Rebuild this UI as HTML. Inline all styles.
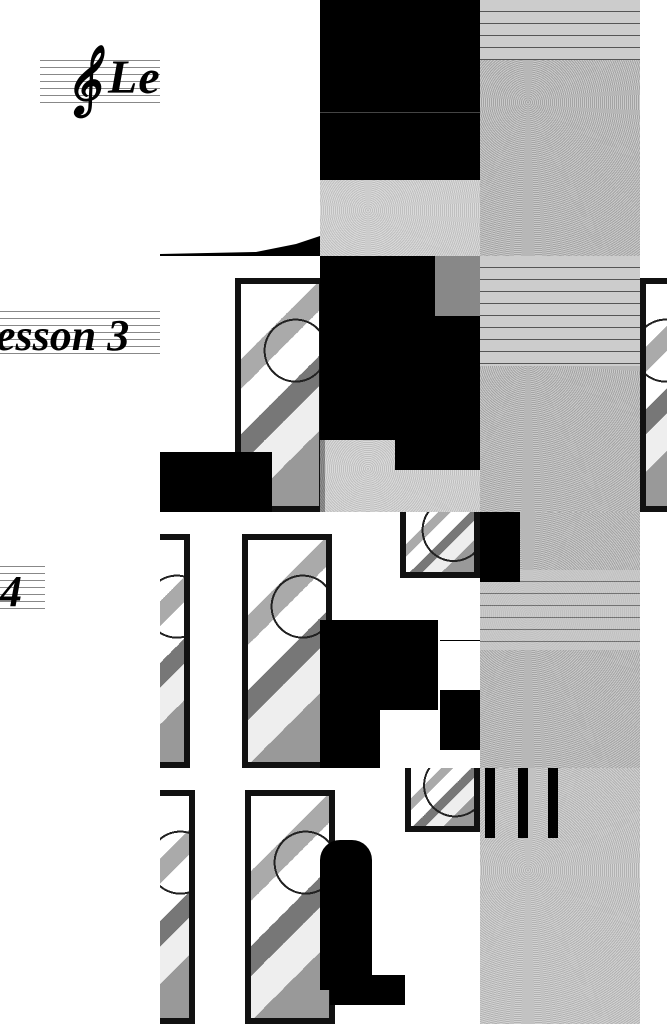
<!DOCTYPE html>
<html><head><meta charset="utf-8"><style>
html,body{margin:0;padding:0;background:#fff;}
body{width:667px;height:1024px;position:relative;overflow:hidden;font-family:"Liberation Serif",serif;}
.a{position:absolute;}
.st{background:repeating-radial-gradient(circle at 30% 40%,#a4a4a4 0 1px,#cacaca 1px 2px);}
.lines{background:repeating-linear-gradient(#cccccc 0 11px,#555 11px 12px);}
.win{border:6px solid #111;box-sizing:border-box;background:
radial-gradient(circle at 70% 30%,transparent 0 30px,#222 30px 32px,transparent 32px),
linear-gradient(135deg,#fff 0 25%,#aaa 25% 35%,#fff 35% 50%,#777 50% 60%,#eee 60% 75%,#999 75%);}
.staff{background:repeating-linear-gradient(#fff 0 6px,#888 6px 7px);}
.t{font-style:italic;font-weight:bold;letter-spacing:1px;}
</style></head><body>
<!-- row 0 -->
<div class="a staff" style="left:40px;top:54px;width:120px;height:49px"></div>
<div class="a" style="left:65px;top:40px;font-size:60px;line-height:80px;font-style:italic;font-weight:bold">𝄞</div>
<div class="a t" style="left:108px;top:50px;font-size:48px">Le</div>
<div class="a" style="left:160px;top:236px;width:160px;height:20px;background:#000;clip-path:polygon(0 90%,60% 80%,85% 40%,100% 0,100% 100%,0 100%)"></div>
<div class="a" style="left:320px;top:0;width:160px;height:180px;background:#000"></div>
<div class="a" style="left:320px;top:112px;width:160px;height:1px;background:#444"></div>
<div class="a st" style="left:320px;top:180px;width:160px;height:76px;opacity:.7"></div>
<div class="a st" style="left:480px;top:0;width:160px;height:256px"></div>
<div class="a lines" style="left:480px;top:0;width:160px;height:60px"></div>
<!-- row 1 -->
<div class="a staff" style="left:0;top:305px;width:160px;height:49px"></div>
<div class="a t" style="left:-4px;top:310px;font-size:44px;letter-spacing:0">esson 3</div>
<div class="a win" style="left:235px;top:278px;width:90px;height:234px"></div>
<div class="a" style="left:160px;top:452px;width:112px;height:60px;background:#000"></div>
<div class="a" style="left:320px;top:256px;width:160px;height:184px;background:#000"></div>
<div class="a" style="left:435px;top:256px;width:45px;height:60px;background:#888"></div>
<div class="a st" style="left:320px;top:440px;width:160px;height:72px;opacity:.7"></div>
<div class="a" style="left:395px;top:440px;width:85px;height:30px;background:#000"></div>
<div class="a st" style="left:480px;top:256px;width:160px;height:256px"></div>
<div class="a lines" style="left:480px;top:256px;width:160px;height:110px"></div>
<div class="a win" style="left:640px;top:278px;width:40px;height:234px"></div>
<!-- row 2 -->
<div class="a staff" style="left:0;top:560px;width:45px;height:49px"></div>
<div class="a t" style="left:0;top:566px;font-size:44px">4</div>
<div class="a win" style="left:160px;top:534px;width:30px;height:234px;border-left:none"></div>
<div class="a win" style="left:242px;top:534px;width:90px;height:234px"></div>
<div class="a win" style="left:400px;top:512px;width:80px;height:66px;border-top:none"></div>
<div class="a" style="left:320px;top:620px;width:118px;height:90px;background:#000"></div>
<div class="a" style="left:320px;top:700px;width:60px;height:68px;background:#000"></div>
<div class="a" style="left:338px;top:710px;width:6px;height:58px;background:#000"></div>
<div class="a" style="left:440px;top:640px;width:40px;height:50px;background:#fff;border-top:1px solid #000"></div>
<div class="a" style="left:440px;top:690px;width:40px;height:60px;background:#000"></div>
<div class="a st" style="left:480px;top:512px;width:160px;height:256px"></div>
<div class="a lines" style="left:480px;top:570px;width:160px;height:80px;opacity:.7"></div>
<div class="a" style="left:480px;top:512px;width:40px;height:70px;background:#000"></div>
<!-- row 3 -->
<div class="a win" style="left:160px;top:790px;width:35px;height:234px;border-left:none"></div>
<div class="a win" style="left:245px;top:790px;width:90px;height:234px"></div>
<div class="a win" style="left:405px;top:768px;width:75px;height:64px;border-top:none"></div>
<div class="a" style="left:320px;top:840px;width:52px;height:150px;background:#000;border-radius:20px 20px 0 0"></div>
<div class="a" style="left:330px;top:975px;width:75px;height:30px;background:#000"></div>
<div class="a st" style="left:480px;top:768px;width:160px;height:256px;opacity:.85"></div>
<div class="a" style="left:485px;top:768px;width:10px;height:70px;background:#000"></div>
<div class="a" style="left:518px;top:768px;width:10px;height:70px;background:#000"></div>
<div class="a" style="left:548px;top:768px;width:10px;height:70px;background:#000"></div>
</body></html>
